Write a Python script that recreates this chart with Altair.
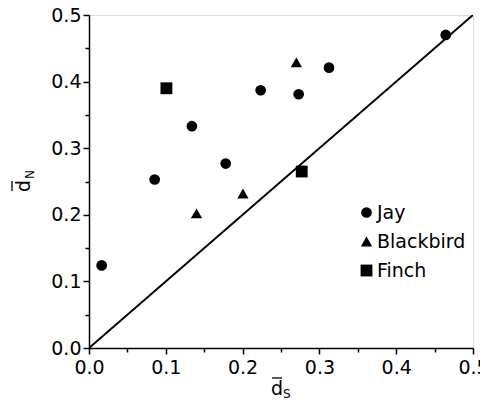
import altair as alt
import pandas as pd

# Data
species = ["Jay"] * 8 + ["Blackbird"] * 3 + ["Finch"] * 2
ds = [0.0165, 0.0855, 0.134, 0.178, 0.2235, 0.273, 0.3125, 0.4645,
      0.140, 0.2005, 0.270,
      0.1008, 0.277]
dn = [0.124, 0.253, 0.333, 0.277, 0.387, 0.381, 0.421, 0.470,
      0.202, 0.232, 0.429,
      0.390, 0.265]
species_order = ["Jay", "Blackbird", "Finch"]
shapes = ["circle", "triangle-up", "square"]
marker_sizes = [115, 140, 100]
diag = [0.0, 0.5]
tick_values = [0.0, 0.05, 0.1, 0.15, 0.2, 0.25, 0.3, 0.35, 0.4, 0.45, 0.5]

df = pd.DataFrame({"ds": ds, "dn": dn, "species": species})
line_df = pd.DataFrame({"x": diag, "y": diag})

FONT = "DejaVu Sans"
label_expr = "abs(round(datum.value*20)) % 2 == 0 ? format(datum.value, '.1f') : ''"
tick_size = {"condition": {"test": "abs(round(datum.value*20)) % 2 == 0", "value": 6}, "value": 4}

xscale = alt.Scale(domain=[0, 0.5], nice=False, zero=False)
yscale = alt.Scale(domain=[0, 0.5], nice=False, zero=False)

common = dict(values=tick_values, labelExpr=label_expr, tickSize=tick_size,
              grid=False, title=None, labelFontSize=19, labelFont=FONT,
              labelColor="black", domainColor="black", tickColor="black",
              domainWidth=1.5, tickWidth=1.5, labelFlush=False, labelOverlap=False)
xaxis = alt.Axis(labelPadding=4, **common)
yaxis = alt.Axis(labelPadding=2, **common)

line = alt.Chart(line_df).mark_line(color="black", strokeWidth=2, clip=True).encode(
    x=alt.X("x:Q", scale=xscale, axis=xaxis),
    y=alt.Y("y:Q", scale=yscale, axis=yaxis),
)

legend = alt.Legend(title=None, orient="none", legendX=268, legendY=188,
                    labelFontSize=19, labelFont=FONT, labelColor="black",
                    symbolFillColor="black", symbolStrokeColor="black",
                    rowPadding=9, labelOffset=1, padding=0)

points = alt.Chart(df).mark_point(filled=True, opacity=1, color="black").encode(
    x=alt.X("ds:Q", scale=xscale, axis=xaxis),
    y=alt.Y("dn:Q", scale=yscale, axis=yaxis),
    shape=alt.Shape("species:N",
                    scale=alt.Scale(domain=species_order, range=shapes),
                    legend=legend),
    size=alt.Size("species:N",
                  scale=alt.Scale(domain=species_order, range=marker_sizes),
                  legend=legend),
)

title_df = pd.DataFrame({"t": ["x"]})
xt_main = alt.Chart(title_df).mark_text(text="d", font=FONT, fontSize=19,
                                        align="center", baseline="alphabetic",
                                        color="black").encode(
    x=alt.value(188), y=alt.value(380))
xt_bar = alt.Chart(title_df).mark_rule(color="black", strokeWidth=1.3).encode(
    x=alt.value(183), x2=alt.value(193), y=alt.value(363))
xt_sub = alt.Chart(title_df).mark_text(text="S", font=FONT, fontSize=12,
                                       align="left", baseline="alphabetic",
                                       color="black").encode(
    x=alt.value(194), y=alt.value(383))
yt_main = alt.Chart(title_df).mark_text(text="d", font=FONT, fontSize=19, angle=270,
                                        align="center", baseline="alphabetic",
                                        color="black").encode(
    x=alt.value(-59), y=alt.value(171))
yt_bar = alt.Chart(title_df).mark_rule(color="black", strokeWidth=1.3).encode(
    x=alt.value(-77), y=alt.value(166), y2=alt.value(176))
yt_sub = alt.Chart(title_df).mark_text(text="N", font=FONT, fontSize=12, angle=270,
                                       align="left", baseline="alphabetic",
                                       color="black").encode(
    x=alt.value(-55), y=alt.value(164))

chart = alt.layer(line, points, xt_main, xt_bar, xt_sub, yt_main, yt_bar, yt_sub).properties(
    width=384, height=333,
    autosize=alt.AutoSizeParams(type="none"),
    padding={"left": 81, "top": 7, "right": 7, "bottom": 52},
).configure_view(stroke="black", strokeWidth=1.5).configure(background="white")

chart.save("out.html", embed_options={"renderer": "svg", "actions": False})
